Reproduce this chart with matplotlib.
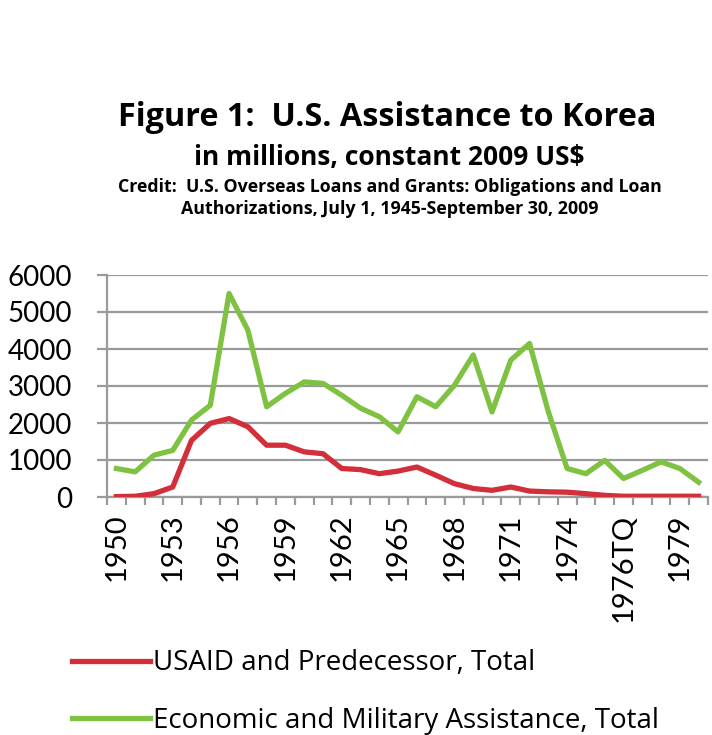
import matplotlib
matplotlib.use("Agg")
import matplotlib.pyplot as plt
from matplotlib.ticker import FixedLocator

plt.rcParams['font.family'] = ['Lato', 'DejaVu Sans']

years = [str(y) for y in range(1950, 1977)] + ["1976TQ", "1977", "1978", "1979", "1980"]
usaid = [10, 20, 90, 270, 1530, 1990, 2120, 1900, 1400, 1400, 1220, 1170, 770,
         740, 630, 700, 810, 590, 360, 230, 180, 270, 160, 140, 130, 90, 45,
         20, 20, 20, 20, 20]
econ_mil = [770, 680, 1130, 1260, 2080, 2480, 5500, 4510, 2440, 2800, 3110, 3070, 2750,
            2400, 2170, 1760, 2710, 2440, 3020, 3840, 2300, 3700, 4150, 2300, 770, 630, 990,
            500, 720, 950, 770, 400]
yticks = [0, 1000, 2000, 3000, 4000, 5000, 6000]

fig = plt.figure(figsize=(7.12, 7.35), dpi=100)
ax = fig.add_axes([107/712, 1-497/735, (708-107)/712, (497-275)/735])

x = list(range(len(years)))
red = '#d22f3b'
green = '#7fc241'
l1, = ax.plot(x, usaid, color=red, lw=3.8, solid_joinstyle='round', label='USAID and Predecessor, Total', zorder=3)
l2, = ax.plot(x, econ_mil, color=green, lw=3.8, solid_joinstyle='round', label='Economic and Military Assistance, Total', zorder=3)

ax.set_xlim(-0.5, len(years) - 0.5)
ax.set_ylim(0, 6000)
ax.set_yticks(yticks)
ax.set_yticklabels([str(v) for v in yticks], fontsize=20)
ax.yaxis.grid(True, color='#9a9a9a', lw=1.6)
ax.set_axisbelow(True)
for s in ['top', 'right']:
    ax.spines[s].set_visible(False)
for s in ['left', 'bottom']:
    ax.spines[s].set_color('#9a9a9a')
    ax.spines[s].set_linewidth(1.6)
ax.tick_params(axis='y', length=7, width=1.6, color='#9a9a9a', pad=18)

major = x[::3]
ax.xaxis.set_major_locator(FixedLocator(major))
ax.set_xticklabels([years[i] for i in major], rotation=90, fontsize=21)
ax.xaxis.set_minor_locator(FixedLocator([i - 0.5 for i in range(len(years) + 1)]))
ax.tick_params(axis='x', which='major', length=0, pad=12)
ax.tick_params(axis='x', which='minor', length=6, width=1.6, color='#9a9a9a')

hfont = ['Open Sans', 'DejaVu Sans']
fig.text(387/712, 1-118/735, 'Figure 1:  U.S. Assistance to Korea', ha='center', va='center',
         fontsize=23.3, fontweight='bold', family=hfont)
fig.text(389/712, 1-158/735, 'in millions, constant 2009 US$', ha='center', va='center',
         fontsize=19, fontweight='bold', family=hfont)
fig.text(390/712, 1-187/735, 'Credit:  U.S. Overseas Loans and Grants: Obligations and Loan',
         ha='center', va='center', fontsize=12.8, fontweight='bold', family=hfont)
fig.text(390/712, 1-209/735, 'Authorizations, July 1, 1945-September 30, 2009',
         ha='center', va='center', fontsize=12.8, fontweight='bold', family=hfont)

fig.legend(handles=[l1, l2], loc='center left', bbox_to_anchor=(72/712, 1-692/735),
           frameon=False, prop={'family': hfont, 'size': 20}, handlelength=2.8,
           handletextpad=0.12, labelspacing=1.05, borderaxespad=0, borderpad=0)

fig.savefig('out.png', dpi=100)
